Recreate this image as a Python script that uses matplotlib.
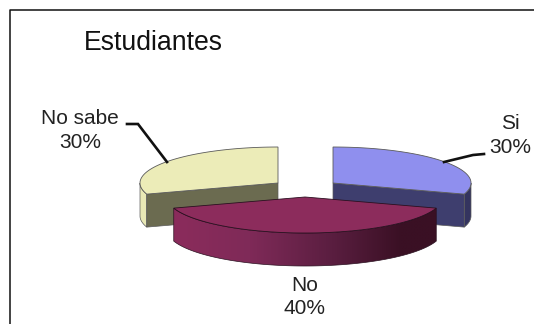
import numpy as np
import matplotlib
matplotlib.use("Agg")
import matplotlib.pyplot as plt
from matplotlib.colors import LinearSegmentedColormap
from matplotlib.patches import Polygon

plt.rcParams['font.family'] = ['Liberation Sans', 'DejaVu Sans']

categories = ['Si', 'No', 'No sabe']
values = [30, 40, 30]

# colours per slice: top, cut face, rim
top_colors = ['#8f8fee', '#8c2c5c', '#ececb8']
face_colors = ['#3e3e6e', '#3a1024', '#6b6b50']
rim_colors = ['#34345f', '#8c2c5c', '#e8e8b5']

# pixel layout of the fake 3d pie
centers = [(333, 183), (305, 197), (278, 183)]
rx = 138
ry = 36
depth = 33


# angles clockwise from 12 o'clock
def arc(cx, cy, a0, a1, dy=0):
    t = np.radians(np.linspace(a0, a1, 120))
    return np.column_stack([cx + rx * np.sin(t), cy - ry * np.cos(t) + dy])


def rim_poly(cx, cy, a0, a1):
    return np.vstack([arc(cx, cy, a0, a1), arc(cx, cy, a0, a1, depth)[::-1]])


fig = plt.figure(figsize=(5.34, 3.24), dpi=100)
ax = fig.add_axes([0, 0, 1, 1])
ax.set_xlim(0, 534)
ax.set_ylim(324, 0)
ax.axis('off')

# chart frame, only top and left show
ax.plot([9.5, 9.5, 534], [324, 9.5, 9.5], color='#111111', lw=1.1, zorder=1)

edge = '#5a5a5a'
spans = []
start = 0
for v in values:
    spans.append((start, start + v / sum(values) * 360))
    start = spans[-1][1]

gradient = LinearSegmentedColormap.from_list(
    'rim', [(0, '#8c2c5c'), (0.3, '#7f2a58'), (0.6, '#5a1e40'), (0.85, '#3a1024'), (1, '#3a1024')])

for i in [0, 2, 1]:
    cx, cy = centers[i]
    a0, a1 = spans[i]
    z = 3 if i == 1 else 2

    if i == 0:
        # cut face runs from apex to the end of the arc, rim right of it
        corner = arc(cx, cy, a1, a1)[0]
        ax.add_patch(Polygon(rim_poly(cx, cy, 90, a1), fc=rim_colors[i], ec=edge, lw=0.5, zorder=z))
        ax.add_patch(Polygon([(cx, cy), corner, corner + [0, depth], (cx, cy + depth)],
                             fc=face_colors[i], ec=edge, lw=0.5, zorder=z))
    elif i == 2:
        corner = arc(cx, cy, a0, a0)[0]
        ax.add_patch(Polygon(rim_poly(cx, cy, a0, 270), fc=rim_colors[i], ec=edge, lw=0.5, zorder=z))
        ax.add_patch(Polygon([(cx, cy), corner, corner + [0, depth], (cx, cy + depth)],
                             fc=face_colors[i], ec=edge, lw=0.5, zorder=z))
    else:
        rim = Polygon(rim_poly(cx, cy, a0, a1), fc='none', ec='none', zorder=z)
        ax.add_patch(rim)
        im = ax.imshow(np.linspace(0, 1, 256).reshape(1, -1), cmap=gradient, aspect='auto',
                       extent=(cx - rx, cx + rx, cy + 2 * depth + ry, cy),
                       zorder=z, interpolation='bilinear')
        im.set_clip_path(rim)
        ax.add_patch(Polygon(rim_poly(cx, cy, a0, a1), fc='none', ec='#2a1020', lw=0.5, zorder=z))

    top = np.vstack([[(cx, cy)], arc(cx, cy, a0, a1)])
    ax.add_patch(Polygon(top, fc=top_colors[i], ec=edge if i != 1 else '#2a1020', lw=0.6, zorder=z + 0.1))

ax.set_xlim(0, 534)
ax.set_ylim(324, 0)

# leader lines
ax.plot([127, 138, 167], [124, 124, 162], color='#111111', lw=1.9, zorder=4, solid_joinstyle='miter')
ax.plot([484, 473, 444], [154, 155, 162], color='#111111', lw=1.9, zorder=4, solid_joinstyle='miter')

txt = '#222222'
ax.text(84, 43.5, 'Estudiantes', fontsize=19.2, color='#111111', ha='left', va='center')
label_pos = [(510, 135.5), (305, 297), (80, 130.5)]
for name, v, (x, y) in zip(categories, values, label_pos):
    ax.text(x, y, f'{name}\n{v}%', fontsize=15, color=txt, ha='center', va='center', linespacing=1.33)

fig.savefig('out.png', dpi=100)
